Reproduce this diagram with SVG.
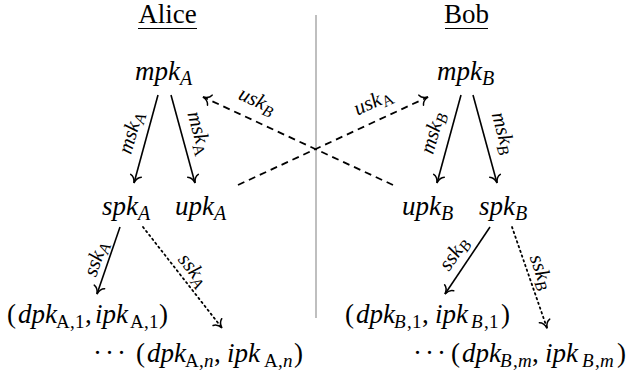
<svg xmlns="http://www.w3.org/2000/svg" width="632" height="379" viewBox="0 0 632 379">
<style>
text{font-family:"Liberation Serif","Times New Roman",serif;fill:#000}
.t{font-size:27px}
.m{font-size:27px;font-style:italic}
.s{font-size:20px}
.q{font-size:19px}
.lb{font-size:21px;font-style:italic}
.ls{font-size:16px}
.up{font-style:normal}
.e{stroke:#000;stroke-width:1.6;fill:none}
.d{stroke-dasharray:7 5;stroke-width:1.8}
.o{stroke-dasharray:1.5 3.5;stroke-linecap:round;stroke-width:1.8}
</style>
<defs>
<marker id="ar" viewBox="-9 -7 11 14" markerWidth="11" markerHeight="14" refX="0" refY="0" orient="auto" markerUnits="userSpaceOnUse">
<path d="M -7.5,-5.5 C -6.5,-2.2 -2.5,-0.5 0,0 C -2.5,0.5 -6.5,2.2 -7.5,5.5" fill="none" stroke="#000" stroke-width="1.5" stroke-linecap="round"/>
</marker>
</defs>
<line x1="316" y1="15" x2="316" y2="318" stroke="#aaaaaa" stroke-width="1.5"/>
<g id="title-alice"><text class="t" x="167.5" y="23" text-anchor="middle">Alice</text><line x1="138" y1="28.5" x2="197" y2="28.5" stroke="#000" stroke-width="1.2"/></g>
<g id="title-bob"><text class="t" x="466.5" y="23" text-anchor="middle">Bob</text><line x1="445" y1="28.5" x2="488" y2="28.5" stroke="#000" stroke-width="1.2"/></g>
<g id="connectors">
<line class="e" x1="158" y1="95" x2="134" y2="183" marker-end="url(#ar)"/>
<line class="e" x1="171" y1="95" x2="195" y2="183" marker-end="url(#ar)"/>
<line class="e" x1="461" y1="95" x2="437" y2="183" marker-end="url(#ar)"/>
<line class="e" x1="473" y1="95" x2="497" y2="183" marker-end="url(#ar)"/>
<line class="e d" x1="238" y1="185" x2="428" y2="97" marker-end="url(#ar)"/>
<line class="e d" x1="393" y1="185" x2="203" y2="97" marker-end="url(#ar)"/>
<line class="e" x1="120" y1="227" x2="97" y2="294" marker-end="url(#ar)"/>
<line class="e o" x1="143" y1="227" x2="222" y2="328" marker-end="url(#ar)"/>
<line class="e" x1="490" y1="227" x2="445" y2="294" marker-end="url(#ar)"/>
<line class="e o" x1="512" y1="227" x2="547" y2="328" marker-end="url(#ar)"/>
<text class="lb" x="131" y="139" text-anchor="middle" transform="rotate(-74 131 133)">msk<tspan class="ls" dy="4">A</tspan></text>
<text class="lb" x="199" y="139" text-anchor="middle" transform="rotate(74 199 133)">msk<tspan class="ls up" dy="4">A</tspan></text>
<text class="lb" x="257" y="107" text-anchor="middle" transform="rotate(25 257 101)">usk<tspan class="ls" dy="4">B</tspan></text>
<text class="lb" x="373" y="108" text-anchor="middle" transform="rotate(-25 373 102)">usk<tspan class="ls up" dy="4">A</tspan></text>
<text class="lb" x="433" y="139" text-anchor="middle" transform="rotate(-74 433 133)">msk<tspan class="ls" dy="4">B</tspan></text>
<text class="lb" x="503" y="139" text-anchor="middle" transform="rotate(74 503 133)">msk<tspan class="ls" dy="4">B</tspan></text>
<text class="lb" x="96" y="265" text-anchor="middle" transform="rotate(-71 96 259)">ssk<tspan class="ls" dy="4">A</tspan></text>
<text class="lb" x="193" y="276" text-anchor="middle" transform="rotate(52 193 270)">ssk<tspan class="ls" dy="4">A</tspan></text>
<text class="lb" x="454" y="260" text-anchor="middle" transform="rotate(-56 454 254)">ssk<tspan class="ls" dy="4">B</tspan></text>
<text class="lb" x="541" y="278" text-anchor="middle" transform="rotate(71 541 272)">ssk<tspan class="ls" dy="4">B</tspan></text>
</g>
<g id="mpkA"><text class="m" x="135" y="80">mpk<tspan class="s" dy="5">A</tspan></text></g>
<g id="mpkB"><text class="m" x="437" y="80">mpk<tspan class="s" dy="5">B</tspan></text></g>
<g id="spkA"><text class="m" x="102" y="215">spk<tspan class="s" dy="5">A</tspan></text></g>
<g id="upkA"><text class="m" x="175" y="215">upk<tspan class="s" dy="5">A</tspan></text></g>
<g id="upkB"><text class="m" x="402" y="215">upk<tspan class="s" dy="5">B</tspan></text></g>
<g id="spkB"><text class="m" x="479" y="215">spk<tspan class="s" dy="5">B</tspan></text></g>
<g id="dA1"><text class="m" y="323"><tspan class="up" x="7">(</tspan><tspan x="18">dpk</tspan><tspan class="q up" x="56 70 75" y="328">A,1</tspan><tspan class="up" x="85" y="323">,</tspan><tspan x="95">ipk</tspan><tspan class="q up" x="130 144 149" y="328">A,1</tspan><tspan class="up" x="159" y="323">)</tspan></text></g>
<g id="dAn"><text class="m" y="362"><tspan class="up" x="93 105 117">···</tspan><tspan class="up" x="136">(</tspan><tspan x="147">dpk</tspan><tspan class="q up" x="185 199" y="367">A,</tspan><tspan class="q" x="204" y="367">n</tspan><tspan class="up" x="214" y="362">,</tspan><tspan x="227">ipk</tspan><tspan class="q up" x="264 278" y="367">A,</tspan><tspan class="q" x="283" y="367">n</tspan><tspan class="up" x="294" y="362">)</tspan></text></g>
<g id="dB1"><text class="m" y="323"><tspan class="up" x="345">(</tspan><tspan x="356">dpk</tspan><tspan class="q" x="394" y="328">B</tspan><tspan class="q up" x="407 412" y="328">,1</tspan><tspan class="up" x="422" y="323">,</tspan><tspan x="435">ipk</tspan><tspan class="q" x="471" y="328">B</tspan><tspan class="q up" x="484 489" y="328">,1</tspan><tspan class="up" x="501" y="323">)</tspan></text></g>
<g id="dBm"><text class="m" y="362"><tspan class="up" x="413 425 437">···</tspan><tspan class="up" x="451">(</tspan><tspan x="462">dpk</tspan><tspan class="q" x="500" y="367">B</tspan><tspan class="q up" x="513" y="367">,</tspan><tspan class="q" x="518" y="367">m</tspan><tspan class="up" x="532" y="362">,</tspan><tspan x="545">ipk</tspan><tspan class="q" x="582" y="367">B</tspan><tspan class="q up" x="595" y="367">,</tspan><tspan class="q" x="600" y="367">m</tspan><tspan class="up" x="617" y="362">)</tspan></text></g>
</svg>
